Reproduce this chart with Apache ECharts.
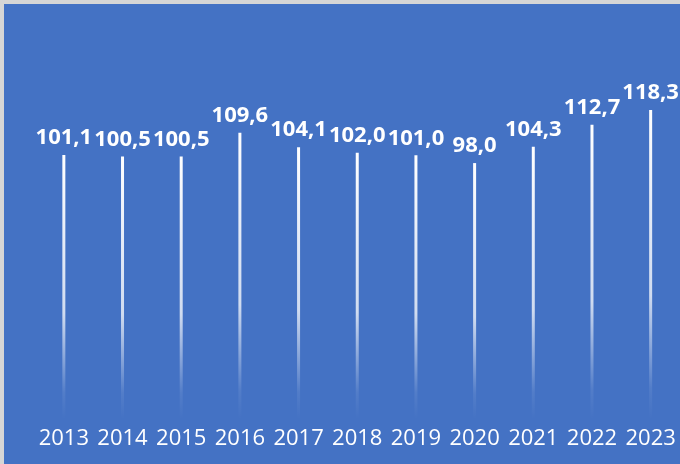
<!DOCTYPE html>
<html>
<head>
<meta charset="utf-8">
<script src="https://cdn.jsdelivr.net/npm/echarts@6/dist/echarts.min.js"></script>
<style>
html,body{margin:0;padding:0;background:#4472C4;}
#c{width:680px;height:464px;}
</style>
</head>
<body>
<div id="c"></div>
<script>
const years = ['2013','2014','2015','2016','2017','2018','2019','2020','2021','2022','2023'];
const values = [101.1, 100.5, 100.5, 109.6, 104.1, 102.0, 101.0, 98.0, 104.3, 112.7, 118.3];

const chart = echarts.init(document.getElementById('c'), null, {renderer: 'canvas'});
chart.setOption({
  backgroundColor: '#4472C4',
  animation: false,
  grid: {left: 34.5, top: 53.4, width: 649, height: 365.6, containLabel: false},
  xAxis: {
    type: 'category',
    data: years,
    axisLine: {show: false},
    axisTick: {show: false},
    axisLabel: {color: '#ffffff', fontSize: 22, fontFamily: 'Open Sans', margin: 9, interval: 0, hideOverlap: false}
  },
  yAxis: {
    type: 'value',
    min: 0, max: 140,
    show: false,
    splitLine: {show: false}
  },
  graphic: [
    {type: 'rect', shape: {x: 0, y: 0, width: 680, height: 4}, style: {fill: '#d6d6d6'}, z: 100},
    {type: 'rect', shape: {x: 0, y: 0, width: 4, height: 464}, style: {fill: '#d6d6d6'}, z: 100}
  ],
  series: [{
    type: 'bar',
    data: values,
    barWidth: 3,
    itemStyle: {
      color: new echarts.graphic.LinearGradient(0, 0, 0, 1, [
        {offset: 0, color: 'rgba(255,255,255,1)'},
        {offset: 0.6, color: 'rgba(255,255,255,0.75)'},
        {offset: 0.9, color: 'rgba(255,255,255,0.08)'},
        {offset: 1, color: 'rgba(255,255,255,0)'}
      ])
    },
    label: {
      show: true,
      position: 'top',
      distance: 6,
      color: '#ffffff',
      fontSize: 22,
      fontWeight: 'bold',
      fontFamily: 'Open Sans',
      formatter: p => p.value.toFixed(1).replace('.', ',')
    }
  }]
});
</script>
</body>
</html>
